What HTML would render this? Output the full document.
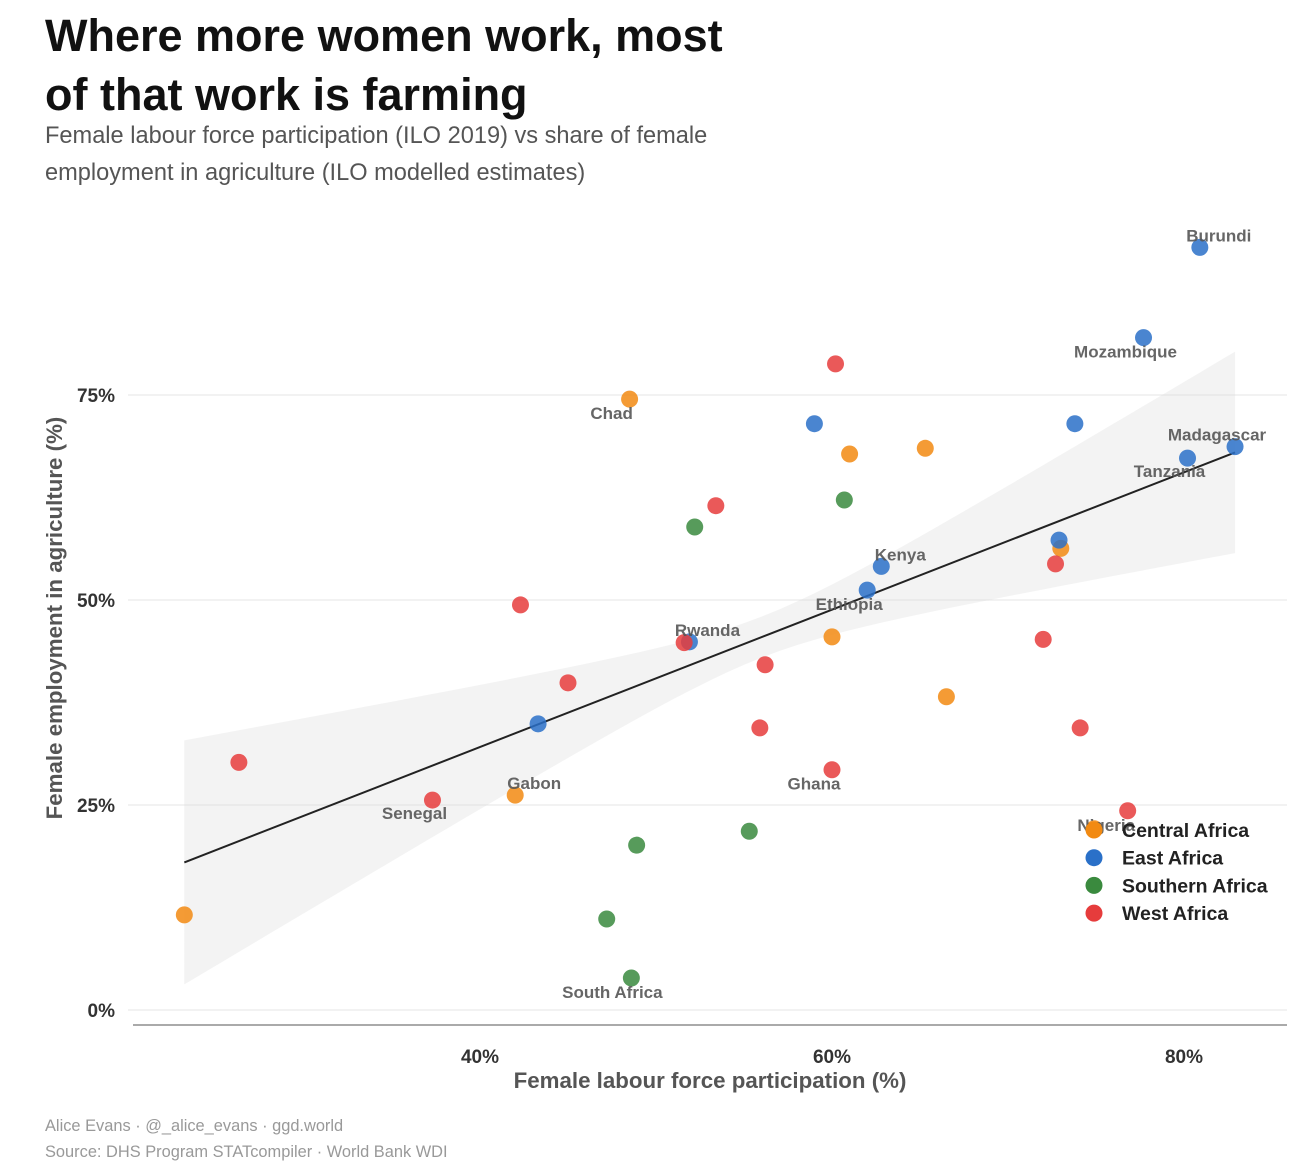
<!DOCTYPE html>
<html><head><meta charset="utf-8">
<style>
body{margin:0;background:#fff;font-family:"Liberation Sans",Arial,sans-serif;}
#wrap{position:relative;width:1298px;height:1172px;overflow:hidden;}
.t{position:absolute;left:45px;font-weight:bold;font-size:45px;color:#111;line-height:59px;}
.s{position:absolute;left:45px;font-size:23.6px;color:#555;line-height:37px;}
.f{position:absolute;left:45px;font-size:16.4px;color:#999;}
svg{position:absolute;left:0;top:0;}
</style></head><body>
<div id="wrap">
<div class="t" style="top:6px">Where more women work, most<br>of that work is farming</div>
<div class="s" style="top:118px">Female labour force participation (ILO 2019) vs share of female<br>employment in agriculture (ILO modelled estimates)</div>
<div class="f" style="top:1117px">Alice Evans · @_alice_evans · ggd.world</div>
<div class="f" style="top:1143px">Source: DHS Program STATcompiler · World Bank WDI</div>
<svg id="plot" width="1298" height="1172"></svg>
</div>
<script>
const regions=["Central Africa","East Africa","Southern Africa","West Africa"];
const colors=["#f28a12","#2a70c8","#3a8a3e","#e63c3c"];
const ptX=[23.2,48.5,61.0,65.3,60.0,66.5,73.0,42.0,74.9, 80.9,77.7,59.0,73.8,82.9,80.2,72.9,62.8,62.0,51.9,43.3, 52.2,60.7,55.3,48.9,47.2,48.6, 60.2,53.4,42.3,51.6,45.0,56.2,55.9,60.0,72.0,74.1,72.7,76.8,26.3,37.3];
const ptY=[11.6,74.5,67.8,68.5,45.5,38.2,56.3,26.2,22.1, 93.0,82.0,71.5,71.5,68.7,67.3,57.3,54.1,51.2,44.9,34.9, 58.9,62.2,21.8,20.1,11.1,3.9, 78.8,61.5,49.4,44.8,39.9,42.1,34.4,29.3,45.2,34.4,54.4,24.3,30.2,25.6];
const ptRegion=[0,0,0,0,0,0,0,0,0, 1,1,1,1,1,1,1,1,1,1,1, 2,2,2,2,2,2, 3,3,3,3,3,3,3,3,3,3,3,3,3,3];
const ptLabel=["","Chad","","","","","","Gabon","Nigeria","Burundi","Mozambique","","","Madagascar","Tanzania","","Kenya","Ethiopia","Rwanda","","","","","","","South Africa","","","","","","","","Ghana","","","","","","Senegal"];
const labelDx=[0,-18,0,0,0,0,0,19,12,19,-18,0,0,-18,-18,0,19,-18,18,0,0,0,0,0,0,-19,0,0,0,0,0,0,0,-18,0,0,0,0,0,-18];
const labelDy=[0,14,0,0,0,0,0,-12,-4,-12,14,0,0,-12,13,0,-12,14,-12,0,0,0,0,0,0,14,0,0,0,0,0,0,0,14,0,0,0,0,0,13];
const yTicks=[0,25,50,75];
const xTicks=[40,60,80];
const fitX=[23.2,82.9], fitY=[18.0,68.0];
const X=v=>480+(v-40)*17.6, Y=v=>1010-v*8.2;
const svg=document.getElementById('plot');const NS='http://www.w3.org/2000/svg';
function mk(tag,at,parent){const e=document.createElementNS(NS,tag);for(const k in at)e.setAttribute(k,at[k]);(parent||svg).appendChild(e);return e;}
yTicks.forEach(t=>{
 const l=mk('line',{x1:128,x2:1287,y1:Y(t),y2:Y(t),stroke:'#e4e4e4','stroke-width':1});
 
 
 const tx=mk('text',{x:115,y:Y(t)+7,'text-anchor':'end','font-size':19,'font-weight':'bold',fill:'#333'});tx.textContent=t+'%';
 
 
});
const ax=mk('line',{x1:133,x2:1287,y1:1025,y2:1025,stroke:'#aaa','stroke-width':2});


xTicks.forEach(t=>{
 const tx=mk('text',{x:X(t),y:1063,'text-anchor':'middle','font-size':19,'font-weight':'bold',fill:'#333'});tx.textContent=t+'%';
 
 
});
const slope=(fitY[1]-fitY[0])/(fitX[1]-fitX[0]);
const fy=x=>fitY[0]+slope*(x-fitX[0]);
const hw=x=>Math.sqrt(6.25+0.2*(x-56)*(x-56));
let up=[],lo=[];
for(let i=0;i<=60;i++){const x=fitX[0]+(fitX[1]-fitX[0])*i/60;up.push(X(x)+','+Y(fy(x)+hw(x)));lo.unshift(X(x)+','+Y(fy(x)-hw(x)));}
const band=mk('polygon',{points:up.concat(lo).join(' '),fill:'#d8d8d8','fill-opacity':0.3});


const fl=mk('line',{x1:X(fitX[0]),y1:Y(fitY[0]),x2:X(fitX[1]),y2:Y(fitY[1]),stroke:'#222','stroke-width':2});


ptX.forEach((v,i)=>{
 const c=mk('circle',{cx:X(v),cy:Y(ptY[i]),r:8.5,fill:colors[ptRegion[i]],'fill-opacity':0.85});
 
 
});
ptX.forEach((v,i)=>{
 if(!ptLabel[i])return;
 const tx=mk('text',{x:X(v)+labelDx[i],y:Y(ptY[i])+labelDy[i]+6,'text-anchor':'middle','font-size':17,'font-weight':'bold',fill:'#555','fill-opacity':0.9});tx.textContent=ptLabel[i];
 
 
});
regions.forEach((r,i)=>{
 const y=830+i*27.7;
 const c=mk('circle',{cx:1094,cy:y,r:8.5,fill:colors[i]});
 
 
 const tx=mk('text',{x:1122,y:y+7,'font-size':19.5,'font-weight':'bold',fill:'#222'});tx.textContent=r;
 
 
});
const xt=mk('text',{x:710,y:1088,'text-anchor':'middle','font-size':22.3,'font-weight':'bold',fill:'#555'});xt.textContent='Female labour force participation (%)';


const yt=mk('text',{x:0,y:0,'text-anchor':'middle','font-size':22.3,'font-weight':'bold',fill:'#555',transform:'translate(62,618) rotate(-90)'});yt.textContent='Female employment in agriculture (%)';


</script>
</body></html>
